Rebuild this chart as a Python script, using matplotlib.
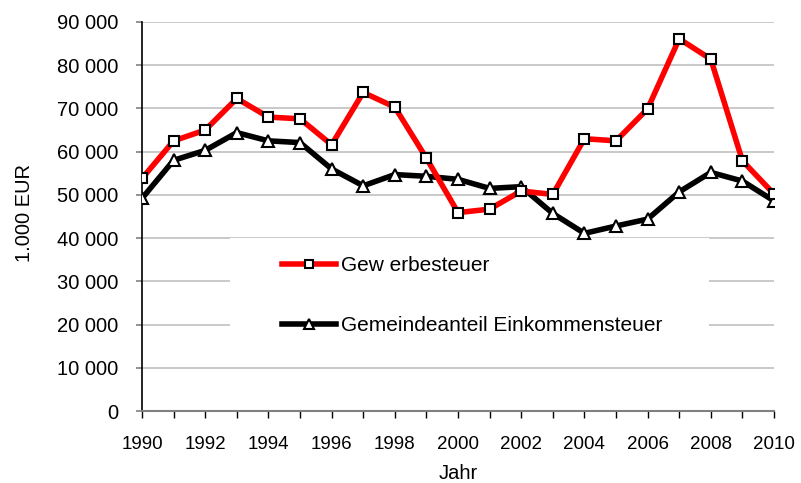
import matplotlib
matplotlib.use("Agg")
import matplotlib.pyplot as plt
from matplotlib.patches import Rectangle
from matplotlib.ticker import FuncFormatter

# Daten (1.000 EUR)
jahre = list(range(1990, 2011))
gewerbesteuer = [53800, 62500, 65000, 72300, 68000, 67600, 61600, 73700, 70300, 58500,
                 45900, 46700, 50900, 50100, 63000, 62500, 69900, 86100, 81400, 57900, 50200]
einkommensteuer = [49200, 58000, 60300, 64400, 62500, 62100, 56000, 52100, 54700, 54300,
                   53600, 51500, 51900, 45700, 41100, 42800, 44400, 50700, 55200, 53200, 48600]
y_ticks = list(range(0, 90001, 10000))
x_labels = [str(j) if j % 2 == 0 else "" for j in jahre]

plt.rcParams["font.family"] = ["Liberation Sans", "DejaVu Sans"]

fig = plt.figure(figsize=(8.01, 4.83), dpi=100)
ax = fig.add_axes([0.1773, 0.149, 0.789, 0.8055])

ax.plot(jahre, gewerbesteuer, color="#ff0000", lw=4, marker="s", ms=7.5,
        mfc="white", mec="black", mew=1.5, label="Gew erbesteuer", zorder=4)
ax.plot(jahre, einkommensteuer, color="black", lw=4, marker="^", ms=9,
        mfc="white", mec="black", mew=1.5, label="Gemeindeanteil Einkommensteuer", zorder=3)

ax.set_xlim(1990, 2010)
ax.set_ylim(0, 90000)
ax.set_yticks(y_ticks)
ax.yaxis.set_major_formatter(FuncFormatter(lambda v, p: f"{int(v):,}".replace(",", " ")))
ax.set_xticks(jahre)
ax.set_xticklabels(x_labels)

ax.grid(axis="y", color="#c0c0c0", lw=1.2, zorder=0)
ax.set_axisbelow(True)

for s in ["top", "right"]:
    ax.spines[s].set_visible(False)
ax.spines["left"].set_color("black")
ax.spines["left"].set_linewidth(1.2)
ax.spines["bottom"].set_color("#808080")
ax.spines["bottom"].set_linewidth(1.5)

ax.tick_params(axis="y", direction="out", length=4, width=1.2, color="#808080",
               labelsize=14.5, pad=13)
ax.tick_params(axis="x", direction="out", length=5, width=1, color="black",
               labelsize=13.5, pad=13)

ax.set_ylabel("1.000 EUR", fontsize=14.5)
ax.yaxis.set_label_coords(-0.171, 0.509)
ax.set_xlabel("Jahr", fontsize=14.5)
ax.xaxis.set_label_coords(0.5, -0.137)

# weisser Legendenhintergrund ueber dem Gitter
ax.add_patch(Rectangle((0.139, 0.1645), 0.758, 0.2815, transform=ax.transAxes,
                       facecolor="white", edgecolor="none", zorder=1))

ax.legend(loc="center left", bbox_to_anchor=(0.2215, 0.297), frameon=False,
          fontsize=15, handlelength=2.6, handletextpad=0.25, labelspacing=1.95,
          borderpad=0, borderaxespad=0, markerscale=0.85)

fig.savefig("out.png", dpi=100)
